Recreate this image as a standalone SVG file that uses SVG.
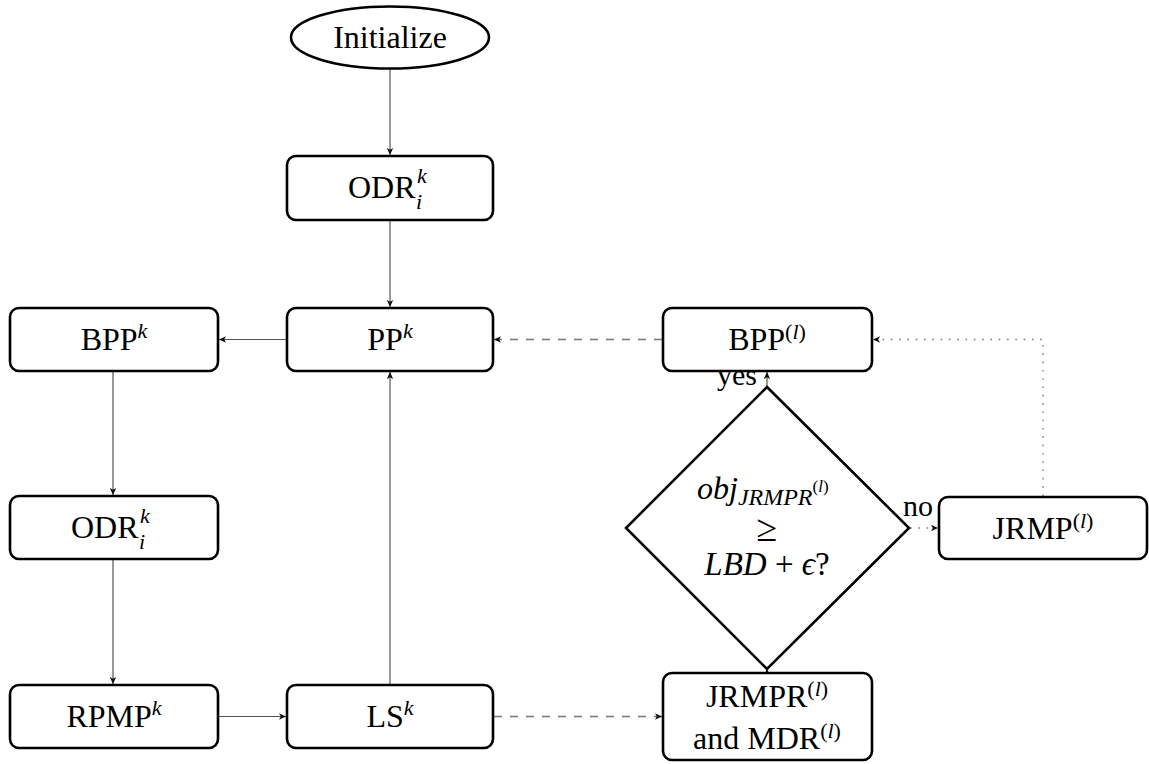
<svg xmlns="http://www.w3.org/2000/svg" width="1149" height="764" viewBox="0 0 1149 764">
  <defs>
    <style>
      .node { fill: #fff; stroke: #000; stroke-width: 2.6; }
      .lbl { font-size: 32px; fill: #000; }
      .sup { font-size: 22px; }
      .it { font-style: italic; }
      .edge { fill: none; stroke: #555; stroke-width: 1.2; }
      .dash { fill: none; stroke: #777; stroke-width: 1.4; stroke-dasharray: 8 8; }
      .dot { fill: none; stroke: #777; stroke-width: 1.3; stroke-dasharray: 1.6 6.7; }
    </style>
    <marker id="tip" markerUnits="userSpaceOnUse" markerWidth="8" markerHeight="7" refX="7" refY="3.5" orient="auto">
      <path d="M0,0.3 L7,3.5 L0,6.7 L1.8,3.5 Z" fill="#111"/>
    </marker>
  </defs>

  <g font-family="Liberation Serif, DejaVu Serif, serif">
  <!-- connectors -->
  <g id="connectors">
    <line class="edge" x1="390" y1="69" x2="390" y2="155" marker-end="url(#tip)"/>
    <line class="edge" x1="390" y1="221" x2="390" y2="307" marker-end="url(#tip)"/>
    <line class="edge" x1="286" y1="339.5" x2="219" y2="339.5" marker-end="url(#tip)"/>
    <line class="edge" x1="113" y1="372" x2="113" y2="495" marker-end="url(#tip)"/>
    <line class="edge" x1="113" y1="560" x2="113" y2="684" marker-end="url(#tip)"/>
    <line class="edge" x1="219" y1="716.5" x2="286" y2="716.5" marker-end="url(#tip)"/>
    <line class="edge" x1="390" y1="684" x2="390" y2="372" marker-end="url(#tip)"/>
    <line class="dash" x1="494" y1="716.5" x2="662" y2="716.5" marker-end="url(#tip)"/>
    <line class="edge" x1="767" y1="673" x2="767" y2="669" marker-end="url(#tip)"/>
    <line class="edge" x1="767" y1="387" x2="767" y2="372" marker-end="url(#tip)"/>
    <line class="dash" x1="662" y1="339.5" x2="494" y2="339.5" marker-end="url(#tip)"/>
    <line class="dot" x1="910" y1="528" x2="938" y2="528" marker-end="url(#tip)"/>
    <polyline class="dot" points="1043,496 1043,339.5 873,339.5" marker-end="url(#tip)"/>
    <text class="lbl" x="757" y="385" text-anchor="end" style="font-size:30px">yes</text>
    <text class="lbl" x="903" y="516" style="font-size:30px">no</text>
  </g>

  <!-- start -->
  <g id="init">
    <ellipse class="node" cx="390" cy="37.5" rx="99" ry="31"/>
    <text class="lbl" x="390" y="48" text-anchor="middle">Initialize</text>
  </g>

  <!-- upper ODR -->
  <g id="odr-top">
    <rect class="node" x="287" y="156" width="206" height="64" rx="9"/>
    <text class="lbl" x="348" y="198">ODR<tspan class="sup it" x="417" y="183">k</tspan><tspan class="sup it" x="416" y="209">i</tspan></text>
  </g>

  <g id="pp">
    <rect class="node" x="287" y="308" width="206" height="63" rx="9"/>
    <text class="lbl" x="390" y="350" text-anchor="middle">PP<tspan class="sup it" dy="-12">k</tspan></text>
  </g>

  <g id="bpp-k">
    <rect class="node" x="10" y="308" width="208" height="63" rx="9"/>
    <text class="lbl" x="114" y="350" text-anchor="middle">BPP<tspan class="sup it" dy="-12">k</tspan></text>
  </g>

  <g id="odr-left">
    <rect class="node" x="10" y="496" width="208" height="63" rx="9"/>
    <text class="lbl" x="71" y="538">ODR<tspan class="sup it" x="140" y="523">k</tspan><tspan class="sup it" x="139" y="549">i</tspan></text>
  </g>

  <g id="rpmp">
    <rect class="node" x="10" y="685" width="208" height="63" rx="9"/>
    <text class="lbl" x="114" y="727" text-anchor="middle">RPMP<tspan class="sup it" dy="-12">k</tspan></text>
  </g>

  <g id="ls">
    <rect class="node" x="287" y="685" width="206" height="63" rx="9"/>
    <text class="lbl" x="390" y="727" text-anchor="middle">LS<tspan class="sup it" dy="-12">k</tspan></text>
  </g>

  <g id="bpp-l">
    <rect class="node" x="663" y="308" width="209" height="63" rx="9"/>
    <text class="lbl" x="767" y="350" text-anchor="middle">BPP<tspan class="sup" dy="-11">(<tspan class="it">l</tspan>)</tspan></text>
  </g>

  <g id="check">
    <polygon class="node" points="767,387 909,528 767,669 626,528"/>
    <text class="lbl" x="697" y="499"><tspan class="it">obj</tspan><tspan class="it" style="font-size:24px" dy="6">JRMPR</tspan><tspan style="font-size:17px" dy="-13">(<tspan class="it">l</tspan>)</tspan></text>
    <text class="lbl" x="767" y="541" text-anchor="middle" style="font-size:38px">≥</text>
    <text class="lbl" x="767" y="575" text-anchor="middle" style="font-size:33px"><tspan class="it">LBD</tspan> + <tspan class="it">ϵ</tspan>?</text>
  </g>

  <g id="jrmp">
    <rect class="node" x="939" y="497" width="208" height="62" rx="9"/>
    <text class="lbl" x="1043" y="539" text-anchor="middle">JRMP<tspan class="sup" dy="-11">(<tspan class="it">l</tspan>)</tspan></text>
  </g>

  <g id="jrmpr">
    <rect class="node" x="663" y="673" width="209" height="87" rx="9"/>
    <text class="lbl" x="767" y="707" text-anchor="middle">JRMPR<tspan class="sup" dy="-11">(<tspan class="it">l</tspan>)</tspan></text>
    <text class="lbl" x="767" y="749" text-anchor="middle">and MDR<tspan class="sup" dy="-11">(<tspan class="it">l</tspan>)</tspan></text>
  </g>
  </g>
</svg>
